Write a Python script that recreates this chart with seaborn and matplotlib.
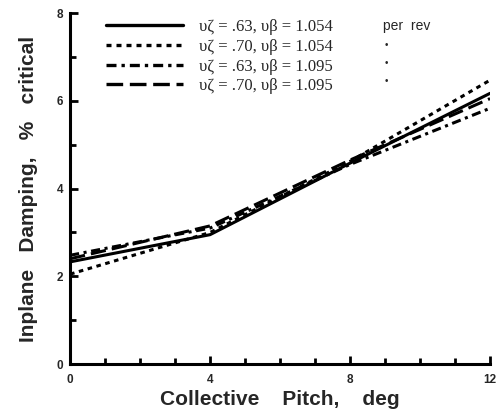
import matplotlib
matplotlib.use("Agg")
import matplotlib.pyplot as plt
import seaborn as sns
import pandas as pd
from matplotlib.lines import Line2D
from matplotlib.ticker import MultipleLocator

pitch = [0, 4, 8, 12]
series_labels = [
    "υζ = .63, υβ = 1.054",
    "υζ = .70, υβ = 1.054",
    "υζ = .63, υβ = 1.095",
    "υζ = .70, υβ = 1.095",
]
damp_s1 = [2.33, 2.95, 4.58, 6.17]
damp_s2 = [2.05, 3.00, 4.62, 6.47]
damp_s3 = [2.48, 3.10, 4.55, 5.83]
damp_s4 = [2.40, 3.15, 4.65, 6.05]
units = ["per  rev", "•", "•", "•"]

rows = []
for lab, vals in zip(series_labels, [damp_s1, damp_s2, damp_s3, damp_s4]):
    for x, y in zip(pitch, vals):
        rows.append({"pitch": x, "damping": y, "case": lab})
df = pd.DataFrame(rows)

sns.set_style("ticks")
plt.rcParams["font.family"] = ["Liberation Sans", "DejaVu Sans"]

fig = plt.figure(figsize=(4.97, 4.20), dpi=100)
ax = fig.add_axes([0.141, 0.133, 0.845, 0.836])

dash_styles = {
    series_labels[0]: "",
    series_labels[1]: (1.5, 1.5),
    series_labels[2]: (3, 1.5, 1, 1.5),
    series_labels[3]: (5, 2),
}
sns.lineplot(data=df, x="pitch", y="damping", hue="case", style="case",
             palette=["black"] * 4, dashes=dash_styles, linewidth=2.2,
             legend=False, ax=ax)

ax.set_xlim(0, 12)
ax.set_ylim(0, 8)
ax.xaxis.set_major_locator(MultipleLocator(4))
ax.xaxis.set_minor_locator(MultipleLocator(1))
ax.yaxis.set_major_locator(MultipleLocator(2))
ax.yaxis.set_minor_locator(MultipleLocator(1))
ax.tick_params(which="both", direction="in", width=2, color="black")
ax.tick_params(which="major", length=6, labelsize=8.5)
ax.tick_params(axis="x", which="major", pad=7)
ax.tick_params(axis="y", which="major", pad=5)
ax.tick_params(which="minor", length=4)
for lbl in ax.get_xticklabels() + ax.get_yticklabels():
    lbl.set_fontweight("bold")
for s in ["top", "right"]:
    ax.spines[s].set_visible(False)
for s in ["left", "bottom"]:
    ax.spines[s].set_linewidth(2.2)
    ax.spines[s].set_color("black")

ax.set_xlabel("Collective    Pitch,    deg", fontsize=15, fontweight="bold", labelpad=3)
ax.set_ylabel("Inplane   Damping,   %   critical", fontsize=15, fontweight="bold", labelpad=13)

handles = [Line2D([0], [0], color="black", lw=2.4, linestyle="-")]
for l in series_labels[1:]:
    handles.append(Line2D([0], [0], color="black", lw=2.4, dashes=dash_styles[l]))
leg = ax.legend(handles, series_labels, loc="upper left", bbox_to_anchor=(0.05, 1.025),
                frameon=False, handlelength=4.6, handletextpad=1.0, labelspacing=0.22,
                prop={"family": ["Liberation Serif", "DejaVu Serif"], "size": 12})

ys = [0.962, 0.910, 0.858, 0.806]
for u, yy in zip(units, ys):
    ax.text(0.745 if u.startswith("per") else 0.75, yy, u, transform=ax.transAxes,
            fontsize=10 if u.startswith("per") else 7, va="center", ha="left")

fig.savefig("out.png", dpi=100)
